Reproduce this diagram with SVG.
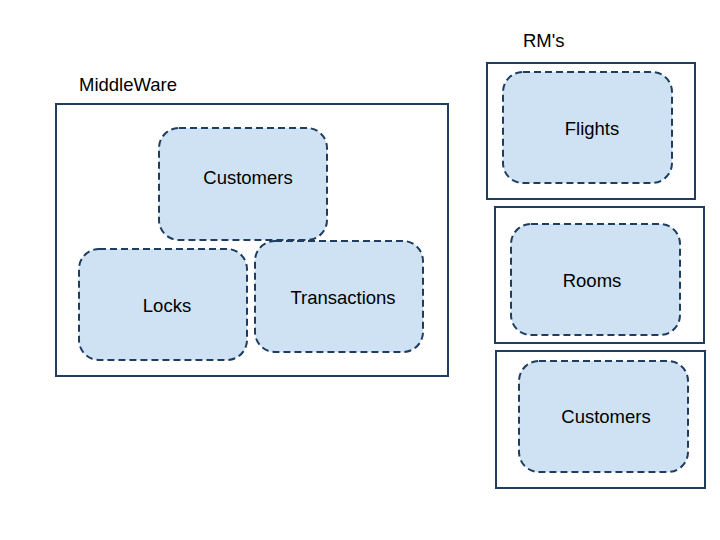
<svg xmlns="http://www.w3.org/2000/svg" width="720" height="540" viewBox="0 0 720 540">
<style>
.frame{fill:none;stroke:#1f3d61;stroke-width:2}
.box{fill:#cfe2f3;stroke:#1f3d61;stroke-width:2;stroke-dasharray:7,4}
text{font-family:"Liberation Sans",Arial,sans-serif;font-size:18.5px;fill:#000}
.c{text-anchor:middle}
</style>
<rect width="720" height="540" fill="#fff"/>
<g id="middleware">
<text x="79" y="91">MiddleWare</text>
<rect class="frame" x="56" y="104" width="392" height="272"/>
</g>
<g id="mw-customers">
<rect class="box" x="159" y="128" width="168" height="112" rx="20"/>
<text class="c" x="248" y="184">Customers</text>
</g>
<g id="mw-locks">
<rect class="box" x="79" y="249" width="168" height="111" rx="20"/>
<text class="c" x="167" y="312">Locks</text>
</g>
<g id="mw-transactions">
<rect class="box" x="255" y="241" width="168" height="111" rx="20"/>
<text class="c" x="343" y="304">Transactions</text>
</g>
<g id="rms">
<text x="523" y="47">RM's</text>
</g>
<g id="rm-flights">
<rect class="frame" x="487" y="63" width="208" height="136"/>
<rect class="box" x="503" y="72" width="169" height="111" rx="20"/>
<text class="c" x="592" y="135">Flights</text>
</g>
<g id="rm-rooms">
<rect class="frame" x="495" y="207" width="209" height="136"/>
<rect class="box" x="511" y="224" width="169" height="111" rx="20"/>
<text class="c" x="592" y="287">Rooms</text>
</g>
<g id="rm-customers">
<rect class="frame" x="496" y="351" width="209" height="137"/>
<rect class="box" x="519" y="361" width="169" height="111" rx="20"/>
<text class="c" x="606" y="423">Customers</text>
</g>
<g id="connectors"></g>
</svg>
